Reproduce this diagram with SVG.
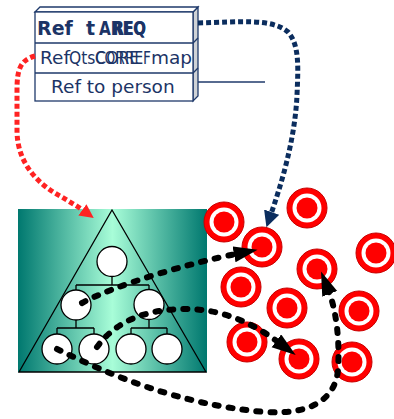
<svg xmlns="http://www.w3.org/2000/svg" xmlns:xlink="http://www.w3.org/1999/xlink" width="394" height="419" viewBox="0 0 394 419">
  <style>
    .frame { fill: #ffffff; stroke: #1f3a6b; stroke-width: 1.3; }
    .side { fill: #cfd2d6; stroke: #1f3a6b; stroke-width: 1.3; }
    .rule { stroke: #1f3a6b; stroke-width: 1.3; fill: none; }
    .lbl { font-family: "DejaVu Sans", Verdana, sans-serif; font-size: 18.5px; fill: #1c3466; }
    .bold { font-weight: bold; font-size: 19px; }
    .ink { stroke: #000; stroke-width: 1.3; fill: none; }
    .node { fill: #fff; stroke: #000; stroke-width: 1.3; }
    .navy { fill: none; stroke: #0b2d5e; stroke-width: 5; stroke-dasharray: 5 3; }
    .red { fill: none; stroke: #ff2222; stroke-width: 5; stroke-dasharray: 5 3; }
    .blk { fill: none; stroke: #000; stroke-width: 6; stroke-dasharray: 4 10; stroke-linecap: round; }
  </style>
  <defs>
    <linearGradient id="teal" x1="0" y1="0" x2="1" y2="0">
      <stop offset="0" stop-color="#00786f"/>
      <stop offset="0.5" stop-color="#a8fdd8"/>
      <stop offset="1" stop-color="#00786f"/>
    </linearGradient>
    <g id="target">
      <circle r="20" fill="#ff0000" stroke="#c80000" stroke-width="1"/>
      <circle r="14.5" fill="#ffffff"/>
      <circle r="10.5" fill="#ff0000"/>
    </g>
    <marker id="headBlk" markerUnits="userSpaceOnUse" markerWidth="26" markerHeight="18" refX="2" refY="8" orient="auto">
      <path d="M0,0 L24,8 L0,16 Z" fill="#000"/>
    </marker>
    <marker id="headNavy" markerUnits="userSpaceOnUse" markerWidth="18" markerHeight="18" refX="2" refY="8" orient="auto">
      <path d="M0,0 L16,8 L0,16 Z" fill="#0b2d5e"/>
    </marker>
    <marker id="headRed" markerUnits="userSpaceOnUse" markerWidth="16" markerHeight="16" refX="2" refY="7" orient="auto">
      <path d="M0,0 L14,7 L0,14 Z" fill="#ff2222"/>
    </marker>
  </defs>

  <!-- record box with three rows -->
  <g id="record">
    <path class="side" d="M193,12 L198,7 L198,96 L193,101 Z"/>
    <path class="frame" d="M35,12 L40,7 L198,7 L193,12 Z"/>
    <rect class="frame" x="35" y="12" width="158" height="89"/>
    <path class="rule" d="M35,43 H193 L198,38 M35,73 H193 L198,68"/>
    <line class="rule" x1="198" y1="82" x2="265" y2="82"/>
    <text class="lbl bold" x="37" y="35">Ref</text>
    <text class="lbl bold" x="86" y="35">t</text>
    <text class="lbl bold" x="99" y="35" textLength="47" lengthAdjust="spacingAndGlyphs">AREQ</text>
    <text class="lbl bold" x="113" y="35" textLength="33" lengthAdjust="spacingAndGlyphs">REQ</text>
    <text class="lbl" x="40" y="64">Ref</text>
    <text class="lbl" x="69" y="64" textLength="70" lengthAdjust="spacingAndGlyphs">QtsCORE</text>
    <text class="lbl" x="95" y="64" textLength="56" lengthAdjust="spacingAndGlyphs">CORREF</text>
    <text class="lbl" x="151" y="64">map</text>
    <text class="lbl" x="51" y="93">Ref to person</text>
  </g>

  <!-- hierarchy panel -->
  <g id="hierarchy">
    <rect x="18" y="209" width="189" height="163" fill="url(#teal)"/>
    <path class="ink" d="M112,210 L206,372 L19,372 Z"/>
    <path class="ink" d="M112,276 V285 M76,285 H149 M76,285 V290 M149,285 V290"/>
    <path class="ink" d="M76,320 V328 M57,328 H94 M57,328 V334 M94,328 V334"/>
    <path class="ink" d="M149,319 V328 M131,328 H167 M131,328 V334 M167,328 V334"/>
    <circle class="node" cx="112" cy="261.5" r="15"/>
    <circle class="node" cx="76" cy="305" r="15"/>
    <circle class="node" cx="149" cy="304.5" r="15"/>
    <circle class="node" cx="57" cy="349" r="15"/>
    <circle class="node" cx="94" cy="349" r="15"/>
    <circle class="node" cx="131" cy="349" r="15"/>
    <circle class="node" cx="167" cy="349" r="15"/>
  </g>

  <!-- targets -->
  <g id="t1"><use xlink:href="#target" x="224" y="222"/></g>
  <g id="t2"><use xlink:href="#target" x="262" y="247"/></g>
  <g id="t3"><use xlink:href="#target" x="307" y="208"/></g>
  <g id="t4"><use xlink:href="#target" x="376" y="253"/></g>
  <g id="t5"><use xlink:href="#target" x="317" y="269"/></g>
  <g id="t6"><use xlink:href="#target" x="241" y="287"/></g>
  <g id="t7"><use xlink:href="#target" x="287" y="308"/></g>
  <g id="t8"><use xlink:href="#target" x="359" y="311"/></g>
  <g id="t9"><use xlink:href="#target" x="247" y="342"/></g>
  <g id="t10"><use xlink:href="#target" x="299" y="359"/></g>
  <g id="t11"><use xlink:href="#target" x="352" y="362"/></g>

  <!-- connectors -->
  <g id="connectors">
    <path class="navy" marker-end="url(#headNavy)" d="M198,23 C240,22 272,18 288,32 C300,45 298,70 297,95 C295,140 281,185 271,214"/>
    <path class="red" marker-end="url(#headRed)" d="M35,56 C20,60 17,70 17,90 L17,130 C17,165 40,185 60,196 C70,202 77,206 84,211"/>
    <path class="blk" marker-end="url(#headBlk)" d="M82,303 C115,285 190,263 236,254"/>
    <path class="blk" marker-end="url(#headBlk)" d="M97,347 C115,322 145,309 185,309 C225,309 255,325 278,342"/>
    <path class="blk" marker-end="url(#headBlk)" d="M57,349 C110,375 180,405 265,412 C310,415 335,400 338,370 C340,340 336,310 329,292"/>
  </g>
</svg>
